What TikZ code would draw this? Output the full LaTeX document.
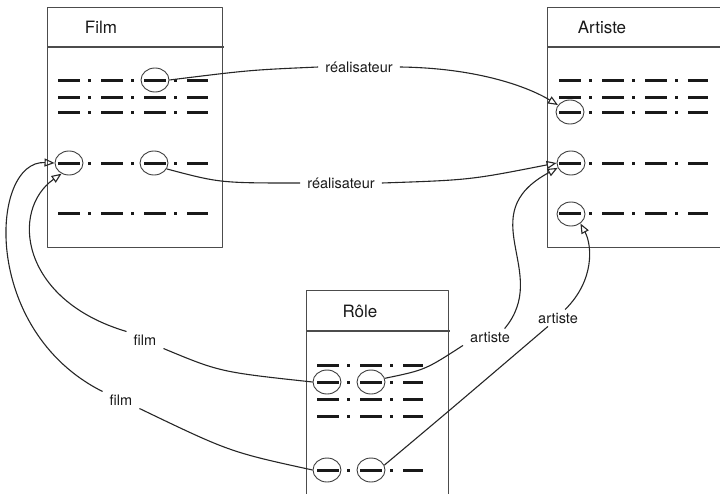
\documentclass[tikz,border=0pt]{standalone}
\usepackage{fontspec}
\setmainfont{TeX Gyre Heros}
\usetikzlibrary{arrows.meta,shapes.geometric}
\begin{document}
\begin{tikzpicture}[x=1pt, y=-1pt, line join=round, >={Triangle[open,length=10pt,width=8pt]},
		table/.style={draw=black!70, line width=1.3pt, inner sep=0pt, anchor=north west},
		title/.style={font=\fontsize{17}{20}\selectfont, text=black!90},
		row/.style={line width=3pt, black!90, dash pattern=on 22pt off 8pt on 3pt off 10pt},
		cle/.style={draw=black!75, line width=0.9pt, ellipse, minimum width=28pt, minimum height=24pt, inner sep=0pt},
		lien/.style={->, draw=black!85, line width=1.1pt},
		lab/.style={font=\fontsize{14.5}{17}\selectfont, text=black!90, inner xsep=7pt, inner ysep=3pt}
		]
		\useasboundingbox (0,0) rectangle (720,493);
		\clip (0,0) rectangle (720,493);
		% tables
		\node[table, minimum width=175pt, minimum height=240pt] (film) at (47,7) {};
		\node[table, minimum width=200pt, minimum height=240pt] (artiste) at (547,7) {};
		\node[table, minimum width=142pt, minimum height=230pt] (role) at (306,290) {};
		\draw[draw=black!70, line width=1.3pt] (47,47) -- (224,47) (547,47) -- (720,47) (306,331) -- (450,331);
		\node[title] (tfilm) at (101,27) {Film};
		\node[title] (tartiste) at (602,27) {Artiste};
		\node[title] (trole) at (360,311) {Rôle};
		% rows
		\foreach \y in {80,97,112,163,213} {
			\draw[row] (58,\y) -- (208,\y);
			\draw[row] (559,\y) -- (708,\y);
		}
		\foreach \y in {365,382,399,416,470}
			\draw[row] (317,\y) -- (423,\y);
		% keys
		\node[cle] (fr1) at (155,80) {};
		\node[cle] (fid) at (69,163) {};
		\node[cle] (fre) at (154,163) {};
		\node[cle] (aid1) at (570,112) {};
		\node[cle] (aid2) at (571,163) {};
		\node[cle] (aid3) at (571,214) {};
		\node[cle] (rf1) at (327,382) {};
		\node[cle] (ra1) at (371,382) {};
		\node[cle] (rf2) at (327,470) {};
		\node[cle] (ra2) at (371,470) {};
		% labels
		\node[lab] (real1) at (359,67) {réalisateur};
		\node[lab] (real2) at (341,183) {réalisateur};
		\node[lab] (film1) at (145,340) {film};
		\node[lab] (film2) at (121,400) {film};
		\node[lab] (art1) at (490,337) {artiste};
		\node[lab] (art2) at (558,318) {artiste};
		% links
		\draw[lien] (fr1.east) .. controls (250,70) .. (real1.west) (real1.east) .. controls (480,68) and (530,88) .. (aid1.150);
		\draw[lien] (fre.-25) .. controls (220,183) .. (real2.west) (real2.east) .. controls (470,180) .. (aid2.180);
		\draw[lien] (rf1.west) .. controls (220,372) .. (film1.south east) (film1.north west) .. controls (20,300) and (10,210) .. (fid.235);
		\draw[lien] (rf2.west) .. controls (230,452) .. (film2.south east) (film2.north west) .. controls (-20,330) and (-10,160) .. (fid.west);
		\draw[lien] (ra1.15) .. controls (425,370) .. (art1.south west) (art1.30) .. controls (552,272) and (470,215) .. (aid2.200);
		\draw[lien] (ra2.20) .. controls (450,410) .. (art2.-140) (art2.50) .. controls (595,280) and (592,245) .. (aid3.-45);
\end{tikzpicture}
\end{document}
